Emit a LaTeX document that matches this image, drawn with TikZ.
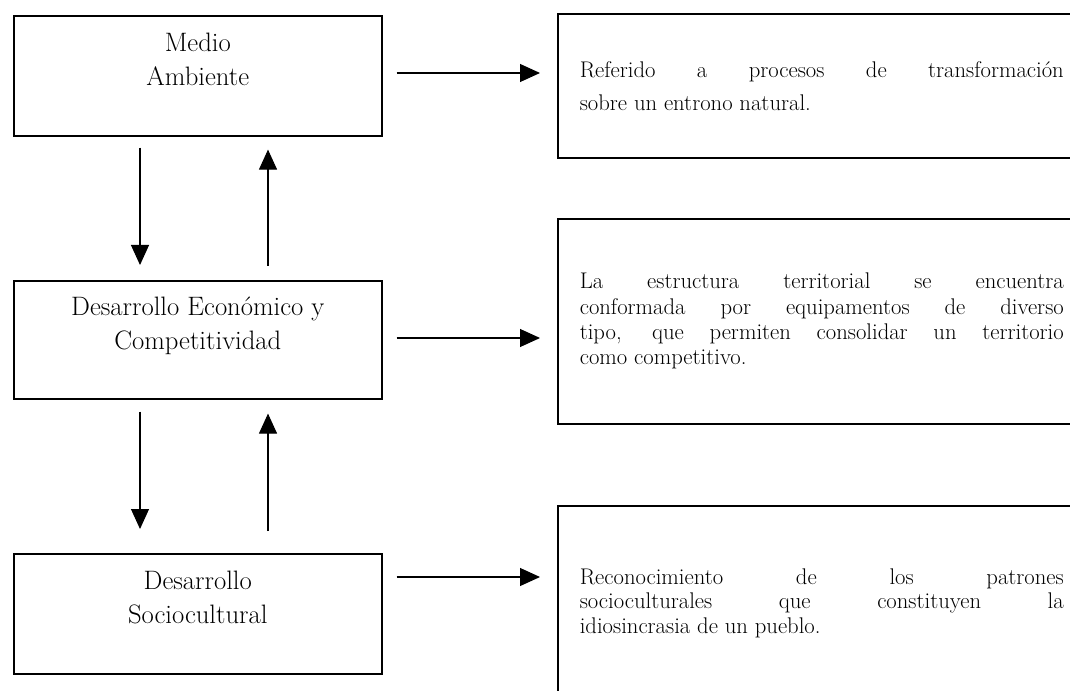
\documentclass[tikz,border=0pt]{standalone}
\usetikzlibrary{arrows.meta}
\hbadness=10000
\begin{document}
\begin{tikzpicture}[x=0.75pt,y=-0.75pt,
	leftbox/.style={draw, line width=1.2pt, anchor=north west, minimum width=276pt, align=center, font=\fontsize{20}{25.5}\selectfont},
	rightbox/.style={draw, line width=1.2pt, anchor=north west, minimum width=396pt, text width=363pt, inner xsep=16.5pt, align=justify, font=\fontsize{17}{19}\selectfont},
	arr/.style={line width=0.8pt, -{Triangle[length=15pt,width=13.5pt]}}]
		
		\useasboundingbox (0,0) rectangle (1070,691);
		\clip (0,0) rectangle (1070,691);
		
		\node[leftbox, minimum height=90pt] (medio) at (13,15) {Medio\\Ambiente\\\rule{0pt}{1pt}};
		\node[leftbox, minimum height=88.5pt] (economico) at (13,280) {Desarrollo Económico y\\Competitividad\\\rule{0pt}{1pt}};
		\node[leftbox, minimum height=90pt] (socio) at (13,553) {Desarrollo\\Sociocultural\\\rule{0pt}{1pt}};
		
		\node[rightbox, minimum height=108pt, font=\fontsize{17}{24.75}\selectfont] (entorno) at (557,13) {Referido a procesos de transformación\linebreak sobre un entrono natural.};
		\node[rightbox, minimum height=153.75pt] (estructura) at (557,218) {La estructura territorial se encuentra\linebreak conformada por equipamentos de diverso\linebreak tipo, que permiten consolidar un territorio\linebreak como competitivo.};
		\node[rightbox, minimum height=146pt, font=\fontsize{17}{18.4}\selectfont] (patrones) at (557,505) {Reconocimiento de los patrones\linebreak socioculturales que constituyen la\linebreak idiosincrasia de un pueblo.};
		
		\draw[arr, shorten <=10.5pt, shorten >=12.75pt] (medio.east |- 0,73) -- (entorno.west |- 0,73);
		\draw[arr, shorten <=10.5pt, shorten >=12.75pt] (economico.east |- 0,338) -- (estructura.west |- 0,338);
		\draw[arr, shorten <=10.5pt, shorten >=12.75pt] (socio.east |- 0,577) -- (patrones.west |- 0,577);
		
		\draw[arr, shorten <=8.25pt, shorten >=11.25pt] (medio.south -| 140,0) -- (economico.north -| 140,0);
		\draw[arr, shorten <=10.5pt, shorten >=9.75pt] (economico.north -| 268,0) -- (medio.south -| 268,0);
		\draw[arr, shorten <=9pt, shorten >=18pt] (economico.south -| 140,0) -- (socio.north -| 140,0);
		\draw[arr, shorten <=16.5pt, shorten >=10.5pt] (socio.north -| 268,0) -- (economico.south -| 268,0);
		
	\end{tikzpicture}
\end{document}
